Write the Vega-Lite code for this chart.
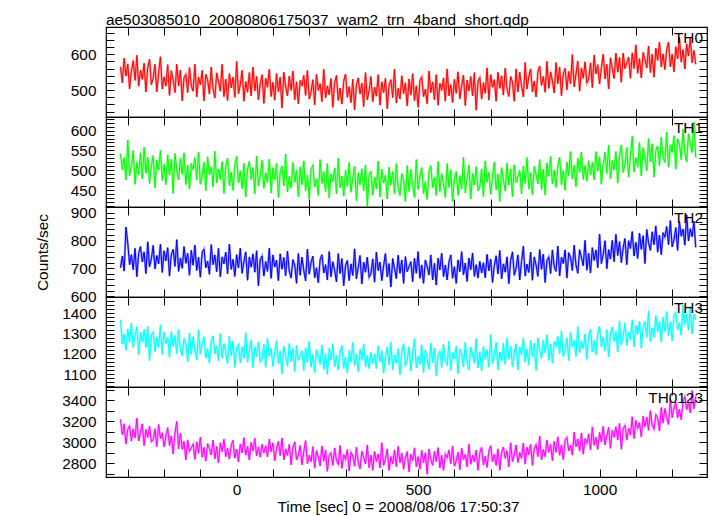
{
"$schema": "https://vega.github.io/schema/vega-lite/v6.json",
"autosize": {"type": "none"},
"padding": {"left": 106, "top": 27, "right": 10, "bottom": 489},
"title": {"text": "ae503085010_20080806175037_wam2_trn_4band_short.qdp", "anchor": "start", "frame": "group", "font": "Liberation Sans", "fontSize": 15.4, "fontWeight": "normal", "color": "#000000", "baseline": "alphabetic", "offset": -15},
"config": {
  "font": "Liberation Sans",
  "view": {"stroke": "#000000", "strokeWidth": 1.2},
  "axis": {"grid": false, "domain": false, "tickColor": "#000000", "tickWidth": 1, "tickSize": -8, "labelColor": "#000000", "labelFont": "Liberation Sans", "labelFontSize": 15.4, "labelPadding": 18, "labelOverlap": false, "labelFlush": false, "format": "d", "titleFont": "Liberation Sans", "titleFontSize": 15.4, "titleFontWeight": "normal", "titleColor": "#000000"}
},
"data": {"values": [
{"t":-320,"a":565,"b":542,"c":702,"d":1368,"e":3218},
{"t":-315,"a":520,"b":502,"c":744,"d":1249,"e":3072},
{"t":-310,"a":589,"b":532,"c":690,"d":1297,"e":3177},
{"t":-305,"a":539,"b":476,"c":848,"d":1218,"e":2983},
{"t":-300,"a":573,"b":576,"c":791,"d":1322,"e":3124},
{"t":-295,"a":503,"b":486,"c":713,"d":1257,"e":3157},
{"t":-290,"a":553,"b":511,"c":749,"d":1352,"e":3011},
{"t":-285,"a":582,"b":550,"c":695,"d":1231,"e":3128},
{"t":-280,"a":527,"b":465,"c":772,"d":1286,"e":3042},
{"t":-275,"a":597,"b":520,"c":670,"d":1333,"e":3231},
{"t":-270,"a":511,"b":489,"c":754,"d":1196,"e":3013},
{"t":-265,"a":556,"b":544,"c":778,"d":1307,"e":3094},
{"t":-260,"a":530,"b":479,"c":723,"d":1258,"e":3176},
{"t":-255,"a":575,"b":558,"c":759,"d":1321,"e":2969},
{"t":-250,"a":495,"b":493,"c":681,"d":1232,"e":3123},
{"t":-245,"a":563,"b":533,"c":795,"d":1335,"e":3047},
{"t":-240,"a":586,"b":467,"c":705,"d":1166,"e":3152},
{"t":-235,"a":515,"b":512,"c":734,"d":1293,"e":3004},
{"t":-230,"a":533,"b":537,"c":782,"d":1308,"e":3025},
{"t":-225,"a":572,"b":456,"c":698,"d":1211,"e":3129},
{"t":-220,"a":495,"b":526,"c":746,"d":1282,"e":2958},
{"t":-215,"a":549,"b":501,"c":716,"d":1233,"e":3170},
{"t":-210,"a":593,"b":550,"c":787,"d":1343,"e":3035},
{"t":-205,"a":503,"b":475,"c":685,"d":1198,"e":3091},
{"t":-200,"a":537,"b":515,"c":763,"d":1308,"e":2956},
{"t":-195,"a":511,"b":464,"c":727,"d":1251,"e":3060},
{"t":-190,"a":571,"b":539,"c":774,"d":1281,"e":3140},
{"t":-185,"a":485,"b":488,"c":672,"d":1184,"e":2969},
{"t":-180,"a":554,"b":528,"c":750,"d":1310,"e":3061},
{"t":-175,"a":529,"b":442,"c":768,"d":1237,"e":2889},
{"t":-170,"a":493,"b":542,"c":707,"d":1291,"e":3089},
{"t":-165,"a":572,"b":501,"c":803,"d":1202,"e":3200},
{"t":-160,"a":512,"b":476,"c":689,"d":1320,"e":2938},
{"t":-155,"a":556,"b":530,"c":737,"d":1223,"e":3086},
{"t":-150,"a":470,"b":490,"c":700,"d":1189,"e":2934},
{"t":-145,"a":535,"b":544,"c":778,"d":1276,"e":3010},
{"t":-140,"a":544,"b":464,"c":718,"d":1250,"e":2832},
{"t":-135,"a":493,"b":513,"c":754,"d":1161,"e":3023},
{"t":-130,"a":563,"b":453,"c":675,"d":1303,"e":2914},
{"t":-125,"a":512,"b":517,"c":765,"d":1198,"e":2949},
{"t":-120,"a":497,"b":502,"c":711,"d":1284,"e":2984},
{"t":-115,"a":572,"b":532,"c":783,"d":1218,"e":2838},
{"t":-110,"a":481,"b":476,"c":692,"d":1169,"e":3005},
{"t":-105,"a":536,"b":546,"c":740,"d":1319,"e":2895},
{"t":-100,"a":515,"b":465,"c":668,"d":1198,"e":3050},
{"t":-95,"a":555,"b":485,"c":757,"d":1253,"e":2858},
{"t":-90,"a":470,"b":520,"c":769,"d":1284,"e":2953},
{"t":-85,"a":544,"b":449,"c":702,"d":1179,"e":2821},
{"t":-80,"a":529,"b":534,"c":726,"d":1226,"e":2988},
{"t":-75,"a":489,"b":489,"c":678,"d":1154,"e":2940},
{"t":-70,"a":564,"b":509,"c":785,"d":1265,"e":2879},
{"t":-65,"a":503,"b":458,"c":713,"d":1288,"e":3022},
{"t":-60,"a":478,"b":548,"c":748,"d":1199,"e":2842},
{"t":-55,"a":548,"b":468,"c":688,"d":1238,"e":2961},
{"t":-50,"a":523,"b":503,"c":772,"d":1165,"e":2805},
{"t":-45,"a":497,"b":477,"c":669,"d":1300,"e":2996},
{"t":-40,"a":572,"b":522,"c":741,"d":1179,"e":2912},
{"t":-35,"a":482,"b":442,"c":716,"d":1250,"e":3031},
{"t":-30,"a":531,"b":511,"c":758,"d":1209,"e":2863},
{"t":-25,"a":471,"b":531,"c":680,"d":1152,"e":2946},
{"t":-20,"a":546,"b":461,"c":787,"d":1288,"e":2840},
{"t":-15,"a":506,"b":496,"c":696,"d":1191,"e":2971},
{"t":-10,"a":536,"b":450,"c":732,"d":1262,"e":3019},
{"t":-5,"a":480,"b":515,"c":671,"d":1133,"e":2850},
{"t":0,"a":580,"b":535,"c":749,"d":1228,"e":2934},
{"t":5,"a":490,"b":469,"c":701,"d":1251,"e":2815},
{"t":10,"a":515,"b":499,"c":772,"d":1155,"e":2984},
{"t":15,"a":555,"b":454,"c":682,"d":1234,"e":2900},
{"t":20,"a":469,"b":518,"c":724,"d":1177,"e":3045},
{"t":25,"a":524,"b":433,"c":759,"d":1304,"e":2878},
{"t":30,"a":494,"b":503,"c":657,"d":1159,"e":2963},
{"t":35,"a":549,"b":522,"c":741,"d":1214,"e":2832},
{"t":40,"a":484,"b":477,"c":704,"d":1269,"e":3000},
{"t":45,"a":564,"b":507,"c":752,"d":1132,"e":2917},
{"t":50,"a":498,"b":441,"c":686,"d":1235,"e":3038},
{"t":55,"a":538,"b":536,"c":763,"d":1187,"e":2871},
{"t":60,"a":473,"b":461,"c":637,"d":1258,"e":2956},
{"t":65,"a":518,"b":485,"c":732,"d":1161,"e":2860},
{"t":70,"a":543,"b":525,"c":744,"d":1176,"e":2981},
{"t":75,"a":463,"b":455,"c":672,"d":1247,"e":2898},
{"t":80,"a":533,"b":494,"c":725,"d":1134,"e":2968},
{"t":85,"a":508,"b":469,"c":689,"d":1277,"e":2861},
{"t":90,"a":558,"b":528,"c":772,"d":1188,"e":3030},
{"t":95,"a":482,"b":443,"c":664,"d":1227,"e":2911},
{"t":100,"a":522,"b":507,"c":748,"d":1138,"e":2995},
{"t":105,"a":472,"b":477,"c":705,"d":1210,"e":2824},
{"t":110,"a":546,"b":517,"c":729,"d":1265,"e":2941},
{"t":115,"a":496,"b":432,"c":656,"d":1152,"e":3010},
{"t":120,"a":536,"b":496,"c":752,"d":1215,"e":2875},
{"t":125,"a":450,"b":511,"c":697,"d":1102,"e":3040},
{"t":130,"a":550,"b":461,"c":739,"d":1238,"e":2833},
{"t":135,"a":510,"b":541,"c":673,"d":1189,"e":2938},
{"t":140,"a":484,"b":446,"c":762,"d":1140,"e":2875},
{"t":145,"a":539,"b":485,"c":690,"d":1251,"e":2980},
{"t":150,"a":499,"b":455,"c":665,"d":1163,"e":2785},
{"t":155,"a":553,"b":520,"c":731,"d":1226,"e":2949},
{"t":160,"a":473,"b":470,"c":712,"d":1113,"e":3005},
{"t":165,"a":523,"b":500,"c":646,"d":1241,"e":2833},
{"t":170,"a":462,"b":434,"c":753,"d":1168,"e":2877},
{"t":175,"a":527,"b":509,"c":675,"d":1192,"e":2969},
{"t":180,"a":511,"b":464,"c":740,"d":1215,"e":2785},
{"t":185,"a":541,"b":524,"c":692,"d":1119,"e":2913},
{"t":190,"a":485,"b":449,"c":655,"d":1230,"e":3017},
{"t":195,"a":555,"b":488,"c":769,"d":1158,"e":2797},
{"t":200,"a":475,"b":428,"c":679,"d":1262,"e":2877},
{"t":205,"a":495,"b":503,"c":721,"d":1134,"e":2816},
{"t":210,"a":529,"b":513,"c":744,"d":1197,"e":2959},
{"t":215,"a":459,"b":458,"c":666,"d":1109,"e":2754},
{"t":220,"a":544,"b":478,"c":702,"d":1221,"e":2921},
{"t":225,"a":499,"b":437,"c":648,"d":1188,"e":2860},
{"t":230,"a":518,"b":527,"c":731,"d":1148,"e":2775},
{"t":235,"a":468,"b":467,"c":749,"d":1244,"e":2966},
{"t":240,"a":558,"b":497,"c":683,"d":1124,"e":2821},
{"t":245,"a":478,"b":447,"c":713,"d":1203,"e":2928},
{"t":250,"a":512,"b":517,"c":658,"d":1099,"e":2723},
{"t":255,"a":487,"b":431,"c":760,"d":1227,"e":2878},
{"t":260,"a":532,"b":491,"c":670,"d":1170,"e":2901},
{"t":265,"a":452,"b":471,"c":724,"d":1250,"e":2780},
{"t":270,"a":521,"b":506,"c":693,"d":1138,"e":2947},
{"t":275,"a":541,"b":441,"c":651,"d":1193,"e":2826},
{"t":280,"a":471,"b":531,"c":753,"d":1121,"e":2789},
{"t":285,"a":506,"b":456,"c":681,"d":1209,"e":2969},
{"t":290,"a":461,"b":486,"c":735,"d":1241,"e":2752},
{"t":295,"a":525,"b":435,"c":638,"d":1129,"e":2884},
{"t":300,"a":545,"b":500,"c":710,"d":1185,"e":2835},
{"t":305,"a":480,"b":460,"c":728,"d":1105,"e":2931},
{"t":310,"a":510,"b":520,"c":656,"d":1217,"e":2726},
{"t":315,"a":465,"b":445,"c":716,"d":1161,"e":2906},
{"t":320,"a":530,"b":480,"c":674,"d":1256,"e":2869},
{"t":325,"a":445,"b":510,"c":770,"d":1144,"e":2773},
{"t":330,"a":514,"b":424,"c":662,"d":1200,"e":2953},
{"t":335,"a":534,"b":494,"c":704,"d":1112,"e":2808},
{"t":340,"a":489,"b":464,"c":746,"d":1224,"e":2748},
{"t":345,"a":519,"b":504,"c":644,"d":1168,"e":2916},
{"t":350,"a":454,"b":449,"c":722,"d":1248,"e":2855},
{"t":355,"a":549,"b":514,"c":686,"d":1136,"e":2795},
{"t":360,"a":473,"b":408,"c":740,"d":1192,"e":2975},
{"t":365,"a":498,"b":488,"c":668,"d":1128,"e":2758},
{"t":370,"a":538,"b":498,"c":680,"d":1208,"e":2878},
{"t":375,"a":468,"b":438,"c":734,"d":1152,"e":2734},
{"t":380,"a":508,"b":483,"c":650,"d":1200,"e":2913},
{"t":385,"a":483,"b":453,"c":758,"d":1128,"e":2817},
{"t":390,"a":543,"b":523,"c":692,"d":1240,"e":2889},
{"t":395,"a":458,"b":433,"c":722,"d":1160,"e":2757},
{"t":400,"a":523,"b":503,"c":656,"d":1216,"e":2997},
{"t":405,"a":493,"b":468,"c":710,"d":1105,"e":2781},
{"t":410,"a":533,"b":488,"c":753,"d":1185,"e":2841},
{"t":415,"a":448,"b":428,"c":669,"d":1233,"e":2937},
{"t":420,"a":514,"b":508,"c":717,"d":1145,"e":2733},
{"t":425,"a":529,"b":463,"c":633,"d":1257,"e":2865},
{"t":430,"a":479,"b":497,"c":735,"d":1121,"e":2793},
{"t":435,"a":559,"b":442,"c":699,"d":1194,"e":2925},
{"t":440,"a":464,"b":517,"c":663,"d":1154,"e":2769},
{"t":445,"a":505,"b":457,"c":747,"d":1226,"e":2961},
{"t":450,"a":475,"b":437,"c":682,"d":1098,"e":2805},
{"t":455,"a":540,"b":492,"c":730,"d":1210,"e":2900},
{"t":460,"a":490,"b":477,"c":646,"d":1250,"e":2744},
{"t":465,"a":520,"b":422,"c":742,"d":1139,"e":2852},
{"t":470,"a":456,"b":512,"c":688,"d":1171,"e":2912},
{"t":475,"a":531,"b":447,"c":706,"d":1235,"e":2720},
{"t":480,"a":486,"b":502,"c":724,"d":1115,"e":2888},
{"t":485,"a":546,"b":462,"c":652,"d":1203,"e":2828},
{"t":490,"a":471,"b":432,"c":736,"d":1275,"e":2948},
{"t":495,"a":512,"b":527,"c":682,"d":1131,"e":2768},
{"t":500,"a":452,"b":452,"c":760,"d":1188,"e":2864},
{"t":505,"a":527,"b":487,"c":664,"d":1148,"e":2744},
{"t":510,"a":537,"b":507,"c":712,"d":1244,"e":2924},
{"t":515,"a":482,"b":442,"c":646,"d":1108,"e":2804},
{"t":520,"a":502,"b":472,"c":730,"d":1220,"e":2900},
{"t":525,"a":462,"b":427,"c":706,"d":1180,"e":2696},
{"t":530,"a":553,"b":497,"c":676,"d":1124,"e":2937},
{"t":535,"a":493,"b":512,"c":748,"d":1253,"e":2841},
{"t":540,"a":523,"b":457,"c":658,"d":1157,"e":2781},
{"t":545,"a":473,"b":482,"c":718,"d":1229,"e":2913},
{"t":550,"a":543,"b":437,"c":640,"d":1093,"e":2817},
{"t":555,"a":458,"b":522,"c":736,"d":1197,"e":2949},
{"t":560,"a":519,"b":447,"c":694,"d":1213,"e":2757},
{"t":565,"a":499,"b":492,"c":754,"d":1133,"e":2877},
{"t":570,"a":534,"b":467,"c":670,"d":1246,"e":2734},
{"t":575,"a":469,"b":432,"c":712,"d":1166,"e":2890},
{"t":580,"a":559,"b":517,"c":658,"d":1142,"e":2854},
{"t":585,"a":484,"b":457,"c":724,"d":1262,"e":2927},
{"t":590,"a":515,"b":502,"c":748,"d":1119,"e":2796},
{"t":595,"a":465,"b":422,"c":664,"d":1207,"e":2964},
{"t":600,"a":530,"b":482,"c":706,"d":1175,"e":2773},
{"t":605,"a":491,"b":497,"c":646,"d":1239,"e":2822},
{"t":610,"a":551,"b":437,"c":730,"d":1103,"e":2906},
{"t":615,"a":476,"b":487,"c":688,"d":1224,"e":2739},
{"t":620,"a":512,"b":453,"c":760,"d":1200,"e":2944},
{"t":625,"a":542,"b":533,"c":677,"d":1136,"e":2836},
{"t":630,"a":457,"b":443,"c":719,"d":1257,"e":2885},
{"t":635,"a":528,"b":478,"c":653,"d":1161,"e":2766},
{"t":640,"a":498,"b":513,"c":737,"d":1121,"e":2982},
{"t":645,"a":538,"b":428,"c":695,"d":1234,"e":2791},
{"t":650,"a":484,"b":493,"c":755,"d":1194,"e":2876},
{"t":655,"a":549,"b":463,"c":671,"d":1154,"e":2816},
{"t":660,"a":444,"b":509,"c":713,"d":1275,"e":2925},
{"t":665,"a":525,"b":449,"c":665,"d":1131,"e":2734},
{"t":670,"a":535,"b":459,"c":725,"d":1211,"e":2902},
{"t":675,"a":475,"b":504,"c":683,"d":1116,"e":2951},
{"t":680,"a":521,"b":434,"c":720,"d":1236,"e":2783},
{"t":685,"a":491,"b":524,"c":666,"d":1173,"e":2868},
{"t":690,"a":562,"b":470,"c":750,"d":1221,"e":2761},
{"t":695,"a":472,"b":495,"c":691,"d":1134,"e":2919},
{"t":700,"a":543,"b":440,"c":733,"d":1295,"e":2968},
{"t":705,"a":508,"b":485,"c":649,"d":1151,"e":2814},
{"t":710,"a":529,"b":521,"c":709,"d":1192,"e":2887},
{"t":715,"a":469,"b":451,"c":745,"d":1257,"e":2780},
{"t":720,"a":550,"b":491,"c":680,"d":1122,"e":2938},
{"t":725,"a":505,"b":422,"c":764,"d":1210,"e":2735},
{"t":730,"a":540,"b":507,"c":662,"d":1163,"e":2905},
{"t":735,"a":486,"b":477,"c":716,"d":1252,"e":2954},
{"t":740,"a":561,"b":448,"c":686,"d":1148,"e":2847},
{"t":745,"a":502,"b":518,"c":741,"d":1277,"e":2921},
{"t":750,"a":482,"b":463,"c":645,"d":1174,"e":2766},
{"t":755,"a":538,"b":503,"c":729,"d":1238,"e":2996},
{"t":760,"a":523,"b":434,"c":759,"d":1135,"e":2817},
{"t":765,"a":469,"b":514,"c":675,"d":1208,"e":2878},
{"t":770,"a":559,"b":469,"c":700,"d":1249,"e":2975},
{"t":775,"a":495,"b":485,"c":748,"d":1121,"e":2808},
{"t":780,"a":550,"b":500,"c":658,"d":1234,"e":2904},
{"t":785,"a":511,"b":441,"c":725,"d":1195,"e":2847},
{"t":790,"a":481,"b":511,"c":779,"d":1277,"e":2994},
{"t":795,"a":577,"b":467,"c":672,"d":1158,"e":2793},
{"t":800,"a":503,"b":532,"c":715,"d":1223,"e":2952},
{"t":805,"a":538,"b":453,"c":685,"d":1145,"e":2883},
{"t":810,"a":559,"b":494,"c":758,"d":1266,"e":2982},
{"t":815,"a":495,"b":439,"c":657,"d":1187,"e":2781},
{"t":820,"a":525,"b":510,"c":741,"d":1253,"e":2940},
{"t":825,"a":481,"b":490,"c":712,"d":1118,"e":2979},
{"t":830,"a":551,"b":466,"c":671,"d":1279,"e":2863},
{"t":835,"a":567,"b":527,"c":767,"d":1217,"e":3058},
{"t":840,"a":513,"b":452,"c":696,"d":1178,"e":2833},
{"t":845,"a":538,"b":503,"c":751,"d":1268,"e":2932},
{"t":850,"a":494,"b":438,"c":649,"d":1205,"e":2863},
{"t":855,"a":580,"b":519,"c":728,"d":1294,"e":3022},
{"t":860,"a":505,"b":485,"c":741,"d":1168,"e":2905},
{"t":865,"a":551,"b":535,"c":681,"d":1249,"e":2980},
{"t":870,"a":526,"b":466,"c":766,"d":1154,"e":2827},
{"t":875,"a":492,"b":501,"c":706,"d":1260,"e":3010},
{"t":880,"a":577,"b":457,"c":689,"d":1237,"e":2905},
{"t":885,"a":518,"b":513,"c":780,"d":1286,"e":3053},
{"t":890,"a":564,"b":533,"c":673,"d":1200,"e":2876},
{"t":895,"a":484,"b":464,"c":740,"d":1313,"e":2976},
{"t":900,"a":545,"b":500,"c":717,"d":1187,"e":2836},
{"t":905,"a":561,"b":450,"c":766,"d":1220,"e":3019},
{"t":910,"a":501,"b":521,"c":665,"d":1277,"e":3047},
{"t":915,"a":552,"b":487,"c":756,"d":1167,"e":2919},
{"t":920,"a":518,"b":547,"c":739,"d":1304,"e":2971},
{"t":925,"a":599,"b":478,"c":692,"d":1234,"e":2878},
{"t":930,"a":509,"b":513,"c":783,"d":1267,"e":3098},
{"t":935,"a":545,"b":459,"c":711,"d":1188,"e":2958},
{"t":940,"a":581,"b":530,"c":682,"d":1334,"e":3033},
{"t":945,"a":497,"b":495,"c":767,"d":1207,"e":2917},
{"t":950,"a":562,"b":546,"c":738,"d":1265,"e":3089},
{"t":955,"a":533,"b":477,"c":709,"d":1226,"e":2888},
{"t":960,"a":579,"b":512,"c":800,"d":1299,"e":3036},
{"t":965,"a":520,"b":473,"c":693,"d":1173,"e":2992},
{"t":970,"a":530,"b":524,"c":754,"d":1286,"e":3080},
{"t":975,"a":576,"b":489,"c":683,"d":1320,"e":2927},
{"t":980,"a":507,"b":520,"c":774,"d":1209,"e":3147},
{"t":985,"a":598,"b":476,"c":728,"d":1267,"e":2972},
{"t":990,"a":545,"b":547,"c":766,"d":1196,"e":3049},
{"t":995,"a":571,"b":498,"c":702,"d":1302,"e":2933},
{"t":1000,"a":517,"b":534,"c":823,"d":1336,"e":3094},
{"t":1005,"a":563,"b":465,"c":717,"d":1234,"e":3003},
{"t":1010,"a":600,"b":515,"c":749,"d":1284,"e":3152},
{"t":1015,"a":531,"b":546,"c":799,"d":1213,"e":2976},
{"t":1020,"a":572,"b":492,"c":699,"d":1319,"e":3065},
{"t":1025,"a":503,"b":563,"c":767,"d":1185,"e":3142},
{"t":1030,"a":590,"b":479,"c":733,"d":1299,"e":2943},
{"t":1035,"a":561,"b":525,"c":800,"d":1332,"e":3115},
{"t":1040,"a":532,"b":501,"c":724,"d":1262,"e":3048},
{"t":1045,"a":603,"b":547,"c":822,"d":1312,"e":3149},
{"t":1050,"a":550,"b":468,"c":746,"d":1210,"e":3022},
{"t":1055,"a":591,"b":538,"c":796,"d":1363,"e":3182},
{"t":1060,"a":522,"b":564,"c":720,"d":1245,"e":2935},
{"t":1065,"a":603,"b":495,"c":775,"d":1287,"e":3132},
{"t":1070,"a":560,"b":516,"c":807,"d":1353,"e":3161},
{"t":1075,"a":576,"b":557,"c":713,"d":1242,"e":3021},
{"t":1080,"a":592,"b":483,"c":799,"d":1308,"e":3134},
{"t":1085,"a":533,"b":539,"c":771,"d":1270,"e":3069},
{"t":1090,"a":604,"b":585,"c":832,"d":1368,"e":3244},
{"t":1095,"a":560,"b":496,"c":744,"d":1234,"e":3035},
{"t":1100,"a":626,"b":532,"c":793,"d":1340,"e":3210},
{"t":1105,"a":547,"b":508,"c":735,"d":1295,"e":3133},
{"t":1110,"a":588,"b":570,"c":826,"d":1361,"e":3188},
{"t":1115,"a":534,"b":486,"c":768,"d":1227,"e":3051},
{"t":1120,"a":605,"b":557,"c":817,"d":1333,"e":3250},
{"t":1125,"a":586,"b":533,"c":717,"d":1359,"e":3149},
{"t":1130,"a":562,"b":499,"c":839,"d":1281,"e":3240},
{"t":1135,"a":623,"b":580,"c":792,"d":1411,"e":3115},
{"t":1140,"a":549,"b":521,"c":764,"d":1261,"e":3302},
{"t":1145,"a":600,"b":567,"c":831,"d":1327,"e":3165},
{"t":1150,"a":536,"b":483,"c":785,"d":1281,"e":3124},
{"t":1155,"a":617,"b":550,"c":852,"d":1388,"e":3263},
{"t":1160,"a":583,"b":561,"c":758,"d":1310,"e":3234},
{"t":1165,"a":634,"b":512,"c":819,"d":1360,"e":3109},
{"t":1170,"a":565,"b":583,"c":749,"d":1258,"e":3332},
{"t":1175,"a":601,"b":534,"c":828,"d":1380,"e":3183},
{"t":1180,"a":557,"b":520,"c":812,"d":1310,"e":3322},
{"t":1185,"a":613,"b":596,"c":850,"d":1408,"e":3234},
{"t":1190,"a":634,"b":508,"c":785,"d":1291,"e":3170},
{"t":1195,"a":565,"b":564,"c":871,"d":1357,"e":3407},
{"t":1200,"a":600,"b":545,"c":777,"d":1264,"e":3235},
{"t":1205,"a":551,"b":587,"c":802,"d":1386,"e":3327},
{"t":1210,"a":621,"b":503,"c":846,"d":1404,"e":3383},
{"t":1215,"a":587,"b":579,"c":764,"d":1319,"e":3235},
{"t":1220,"a":647,"b":566,"c":868,"d":1353,"e":3316},
{"t":1225,"a":578,"b":527,"c":815,"d":1292,"e":3216},
{"t":1230,"a":613,"b":603,"c":841,"d":1438,"e":3392},
{"t":1235,"a":559,"b":544,"c":783,"d":1344,"e":3436},
{"t":1240,"a":629,"b":521,"c":892,"d":1395,"e":3312},
{"t":1245,"a":595,"b":592,"c":798,"d":1317,"e":3381},
{"t":1250,"a":645,"b":568,"c":842,"d":1432,"e":3281},
{"t":1255,"a":576,"b":545,"c":813,"d":1298,"e":3493},
{"t":1260,"a":611,"b":621,"c":869,"d":1396,"e":3321},
{"t":1265,"a":572,"b":532,"c":775,"d":1367,"e":3438}
]},
"spacing": 0,
"bounds": "flush",
"vconcat": [
{
 "width": 601, "height": 90,
 "layer": [
  {"mark": {"type": "line", "color": "#ff9494", "strokeWidth": 2.2, "clip": true},
   "encoding": {
    "x": {"field": "t", "type": "quantitative", "scale": {"domain": [-360, 1296], "nice": false, "zero": false}, "axis": null},
    "y": {"field": "a", "type": "quantitative", "scale": {"domain": [425, 676], "nice": false, "zero": false}, "axis": null}
   }},
  {"mark": {"type": "line", "color": "#ff0000", "strokeWidth": 1, "clip": true},
   "encoding": {
    "x": {"field": "t", "type": "quantitative", "scale": {"domain": [-360, 1296], "nice": false, "zero": false},
          "axis": {"orient": "bottom", "values": [-300,-200,-100,0,100,200,300,400,500,600,700,800,900,1000,1100,1200], "labels": false, "title": null,
                   "encode": {"ticks": {"update": {"y2": {"signal": "datum.value % 500 === 0 ? -8 : -4"}}}}}},
    "y": {"field": "a", "type": "quantitative", "scale": {"domain": [425, 676], "nice": false, "zero": false},
          "axis": {"orient": "left", "values": [440,460,480,500,520,540,560,580,600,620,640,660], "labelExpr": "datum.value % 100 === 0 ? datum.label : ''", "title": null,
                   "encode": {"ticks": {"update": {"x2": {"signal": "datum.value % 100 === 0 ? 8 : 4"}}}}}}
   }},
  {"mark": {"type": "point", "opacity": 0},
   "encoding": {
    "x": {"field": "t", "type": "quantitative", "scale": {"domain": [-360, 1296], "nice": false, "zero": false},
          "axis": {"orient": "top", "values": [-300,-200,-100,0,100,200,300,400,500,600,700,800,900,1000,1100,1200], "labels": false, "title": null,
                   "encode": {"ticks": {"update": {"y2": {"signal": "datum.value % 500 === 0 ? 8 : 4"}}}}}},
    "y": {"field": "a", "type": "quantitative", "scale": {"domain": [425, 676], "nice": false, "zero": false},
          "axis": {"orient": "right", "values": [440,460,480,500,520,540,560,580,600,620,640,660], "labels": false, "title": null,
                   "encode": {"ticks": {"update": {"x2": {"signal": "datum.value % 100 === 0 ? -8 : -4"}}}}}}
   }},
  {"data": {"values": [{"label": "TH0"}]},
   "mark": {"type": "text", "align": "right", "baseline": "alphabetic", "dx": -4, "dy": 16, "font": "Liberation Sans", "fontSize": 15.4, "color": "#000000"},
   "encoding": {
    "x": {"datum": 1296, "type": "quantitative", "scale": {"domain": [-360, 1296], "nice": false, "zero": false}, "axis": null},
    "y": {"datum": 676, "type": "quantitative", "scale": {"domain": [425, 676], "nice": false, "zero": false}, "axis": null},
    "text": {"field": "label"}
   }}
 ],
 "resolve": {"axis": {"x": "independent", "y": "independent"}}
},
{
 "width": 601, "height": 90,
 "layer": [
  {"mark": {"type": "line", "color": "#94ff94", "strokeWidth": 2.2, "clip": true},
   "encoding": {
    "x": {"field": "t", "type": "quantitative", "scale": {"domain": [-360, 1296], "nice": false, "zero": false}, "axis": null},
    "y": {"field": "b", "type": "quantitative", "scale": {"domain": [408, 634], "nice": false, "zero": false}, "axis": null}
   }},
  {"mark": {"type": "line", "color": "#00ff00", "strokeWidth": 1, "clip": true},
   "encoding": {
    "x": {"field": "t", "type": "quantitative", "scale": {"domain": [-360, 1296], "nice": false, "zero": false},
          "axis": {"orient": "bottom", "values": [-300,-200,-100,0,100,200,300,400,500,600,700,800,900,1000,1100,1200], "labels": false, "title": null,
                   "encode": {"ticks": {"update": {"y2": {"signal": "datum.value % 500 === 0 ? -8 : -4"}}}}}},
    "y": {"field": "b", "type": "quantitative", "scale": {"domain": [408, 634], "nice": false, "zero": false},
          "axis": {"orient": "left", "values": [410,420,430,440,450,460,470,480,490,500,510,520,530,540,550,560,570,580,590,600,610,620,630], "labelExpr": "datum.value % 50 === 0 ? datum.label : ''", "title": null,
                   "encode": {"ticks": {"update": {"x2": {"signal": "datum.value % 50 === 0 ? 8 : 4"}}}}}}
   }},
  {"mark": {"type": "point", "opacity": 0},
   "encoding": {
    "x": {"field": "t", "type": "quantitative", "scale": {"domain": [-360, 1296], "nice": false, "zero": false},
          "axis": {"orient": "top", "values": [-300,-200,-100,0,100,200,300,400,500,600,700,800,900,1000,1100,1200], "labels": false, "title": null,
                   "encode": {"ticks": {"update": {"y2": {"signal": "datum.value % 500 === 0 ? 8 : 4"}}}}}},
    "y": {"field": "b", "type": "quantitative", "scale": {"domain": [408, 634], "nice": false, "zero": false},
          "axis": {"orient": "right", "values": [410,420,430,440,450,460,470,480,490,500,510,520,530,540,550,560,570,580,590,600,610,620,630], "labels": false, "title": null,
                   "encode": {"ticks": {"update": {"x2": {"signal": "datum.value % 50 === 0 ? -8 : -4"}}}}}}
   }},
  {"data": {"values": [{"label": "TH1"}]},
   "mark": {"type": "text", "align": "right", "baseline": "alphabetic", "dx": -4, "dy": 16, "font": "Liberation Sans", "fontSize": 15.4, "color": "#000000"},
   "encoding": {
    "x": {"datum": 1296, "type": "quantitative", "scale": {"domain": [-360, 1296], "nice": false, "zero": false}, "axis": null},
    "y": {"datum": 634, "type": "quantitative", "scale": {"domain": [408, 634], "nice": false, "zero": false}, "axis": null},
    "text": {"field": "label"}
   }}
 ],
 "resolve": {"axis": {"x": "independent", "y": "independent"}}
},
{
 "width": 601, "height": 90,
 "layer": [
  {"mark": {"type": "line", "color": "#9494ff", "strokeWidth": 2.2, "clip": true},
   "encoding": {
    "x": {"field": "t", "type": "quantitative", "scale": {"domain": [-360, 1296], "nice": false, "zero": false}, "axis": null},
    "y": {"field": "c", "type": "quantitative", "scale": {"domain": [597, 920], "nice": false, "zero": false}, "axis": null}
   }},
  {"mark": {"type": "line", "color": "#0000ff", "strokeWidth": 1, "clip": true},
   "encoding": {
    "x": {"field": "t", "type": "quantitative", "scale": {"domain": [-360, 1296], "nice": false, "zero": false},
          "axis": {"orient": "bottom", "values": [-300,-200,-100,0,100,200,300,400,500,600,700,800,900,1000,1100,1200], "labels": false, "title": null,
                   "encode": {"ticks": {"update": {"y2": {"signal": "datum.value % 500 === 0 ? -8 : -4"}}}}}},
    "y": {"field": "c", "type": "quantitative", "scale": {"domain": [597, 920], "nice": false, "zero": false},
          "axis": {"orient": "left", "values": [600,620,640,660,680,700,720,740,760,780,800,820,840,860,880,900], "labelExpr": "datum.value % 100 === 0 ? datum.label : ''", "title": "Counts/sec", "titleX": -56,
                   "encode": {"ticks": {"update": {"x2": {"signal": "datum.value % 100 === 0 ? 8 : 4"}}}}}}
   }},
  {"mark": {"type": "point", "opacity": 0},
   "encoding": {
    "x": {"field": "t", "type": "quantitative", "scale": {"domain": [-360, 1296], "nice": false, "zero": false},
          "axis": {"orient": "top", "values": [-300,-200,-100,0,100,200,300,400,500,600,700,800,900,1000,1100,1200], "labels": false, "title": null,
                   "encode": {"ticks": {"update": {"y2": {"signal": "datum.value % 500 === 0 ? 8 : 4"}}}}}},
    "y": {"field": "c", "type": "quantitative", "scale": {"domain": [597, 920], "nice": false, "zero": false},
          "axis": {"orient": "right", "values": [600,620,640,660,680,700,720,740,760,780,800,820,840,860,880,900], "labels": false, "title": null,
                   "encode": {"ticks": {"update": {"x2": {"signal": "datum.value % 100 === 0 ? -8 : -4"}}}}}}
   }},
  {"data": {"values": [{"label": "TH2"}]},
   "mark": {"type": "text", "align": "right", "baseline": "alphabetic", "dx": -4, "dy": 16, "font": "Liberation Sans", "fontSize": 15.4, "color": "#000000"},
   "encoding": {
    "x": {"datum": 1296, "type": "quantitative", "scale": {"domain": [-360, 1296], "nice": false, "zero": false}, "axis": null},
    "y": {"datum": 920, "type": "quantitative", "scale": {"domain": [597, 920], "nice": false, "zero": false}, "axis": null},
    "text": {"field": "label"}
   }}
 ],
 "resolve": {"axis": {"x": "independent", "y": "independent"}}
},
{
 "width": 601, "height": 90,
 "layer": [
  {"mark": {"type": "line", "color": "#94ffff", "strokeWidth": 2.2, "clip": true},
   "encoding": {
    "x": {"field": "t", "type": "quantitative", "scale": {"domain": [-360, 1296], "nice": false, "zero": false}, "axis": null},
    "y": {"field": "d", "type": "quantitative", "scale": {"domain": [1037, 1480], "nice": false, "zero": false}, "axis": null}
   }},
  {"mark": {"type": "line", "color": "#00ffff", "strokeWidth": 1, "clip": true},
   "encoding": {
    "x": {"field": "t", "type": "quantitative", "scale": {"domain": [-360, 1296], "nice": false, "zero": false},
          "axis": {"orient": "bottom", "values": [-300,-200,-100,0,100,200,300,400,500,600,700,800,900,1000,1100,1200], "labels": false, "title": null,
                   "encode": {"ticks": {"update": {"y2": {"signal": "datum.value % 500 === 0 ? -8 : -4"}}}}}},
    "y": {"field": "d", "type": "quantitative", "scale": {"domain": [1037, 1480], "nice": false, "zero": false},
          "axis": {"orient": "left", "values": [1040,1060,1080,1100,1120,1140,1160,1180,1200,1220,1240,1260,1280,1300,1320,1340,1360,1380,1400,1420,1440,1460], "labelExpr": "datum.value % 100 === 0 ? datum.label : ''", "title": null,
                   "encode": {"ticks": {"update": {"x2": {"signal": "datum.value % 100 === 0 ? 8 : 4"}}}}}}
   }},
  {"mark": {"type": "point", "opacity": 0},
   "encoding": {
    "x": {"field": "t", "type": "quantitative", "scale": {"domain": [-360, 1296], "nice": false, "zero": false},
          "axis": {"orient": "top", "values": [-300,-200,-100,0,100,200,300,400,500,600,700,800,900,1000,1100,1200], "labels": false, "title": null,
                   "encode": {"ticks": {"update": {"y2": {"signal": "datum.value % 500 === 0 ? 8 : 4"}}}}}},
    "y": {"field": "d", "type": "quantitative", "scale": {"domain": [1037, 1480], "nice": false, "zero": false},
          "axis": {"orient": "right", "values": [1040,1060,1080,1100,1120,1140,1160,1180,1200,1220,1240,1260,1280,1300,1320,1340,1360,1380,1400,1420,1440,1460], "labels": false, "title": null,
                   "encode": {"ticks": {"update": {"x2": {"signal": "datum.value % 100 === 0 ? -8 : -4"}}}}}}
   }},
  {"data": {"values": [{"label": "TH3"}]},
   "mark": {"type": "text", "align": "right", "baseline": "alphabetic", "dx": -4, "dy": 16, "font": "Liberation Sans", "fontSize": 15.4, "color": "#000000"},
   "encoding": {
    "x": {"datum": 1296, "type": "quantitative", "scale": {"domain": [-360, 1296], "nice": false, "zero": false}, "axis": null},
    "y": {"datum": 1480, "type": "quantitative", "scale": {"domain": [1037, 1480], "nice": false, "zero": false}, "axis": null},
    "text": {"field": "label"}
   }}
 ],
 "resolve": {"axis": {"x": "independent", "y": "independent"}}
},
{
 "width": 601, "height": 90,
 "layer": [
  {"mark": {"type": "line", "color": "#ff94ff", "strokeWidth": 2.2, "clip": true},
   "encoding": {
    "x": {"field": "t", "type": "quantitative", "scale": {"domain": [-360, 1296], "nice": false, "zero": false}, "axis": null},
    "y": {"field": "e", "type": "quantitative", "scale": {"domain": [2670, 3527], "nice": false, "zero": false}, "axis": null}
   }},
  {"mark": {"type": "line", "color": "#ff00ff", "strokeWidth": 1, "clip": true},
   "encoding": {
    "x": {"field": "t", "type": "quantitative", "scale": {"domain": [-360, 1296], "nice": false, "zero": false},
          "axis": {"orient": "bottom", "values": [-300,-200,-100,0,100,200,300,400,500,600,700,800,900,1000,1100,1200], "labelExpr": "datum.value % 500 === 0 ? datum.label : ''", "labelPadding": 13, "title": "Time [sec] 0 = 2008/08/06 17:50:37", "titleX": 292, "titlePadding": 2,
                   "encode": {"ticks": {"update": {"y2": {"signal": "datum.value % 500 === 0 ? -8 : -4"}}}}}},
    "y": {"field": "e", "type": "quantitative", "scale": {"domain": [2670, 3527], "nice": false, "zero": false},
          "axis": {"orient": "left", "values": [2700,2800,2900,3000,3100,3200,3300,3400,3500], "labelExpr": "datum.value % 200 === 0 ? datum.label : ''", "title": null,
                   "encode": {"ticks": {"update": {"x2": {"signal": "datum.value % 200 === 0 ? 8 : 4"}}}}}}
   }},
  {"mark": {"type": "point", "opacity": 0},
   "encoding": {
    "x": {"field": "t", "type": "quantitative", "scale": {"domain": [-360, 1296], "nice": false, "zero": false},
          "axis": {"orient": "top", "values": [-300,-200,-100,0,100,200,300,400,500,600,700,800,900,1000,1100,1200], "labels": false, "title": null,
                   "encode": {"ticks": {"update": {"y2": {"signal": "datum.value % 500 === 0 ? 8 : 4"}}}}}},
    "y": {"field": "e", "type": "quantitative", "scale": {"domain": [2670, 3527], "nice": false, "zero": false},
          "axis": {"orient": "right", "values": [2700,2800,2900,3000,3100,3200,3300,3400,3500], "labels": false, "title": null,
                   "encode": {"ticks": {"update": {"x2": {"signal": "datum.value % 200 === 0 ? -8 : -4"}}}}}}
   }},
  {"data": {"values": [{"label": "TH0123"}]},
   "mark": {"type": "text", "align": "right", "baseline": "alphabetic", "dx": -4, "dy": 16, "font": "Liberation Sans", "fontSize": 15.4, "color": "#000000"},
   "encoding": {
    "x": {"datum": 1296, "type": "quantitative", "scale": {"domain": [-360, 1296], "nice": false, "zero": false}, "axis": null},
    "y": {"datum": 3527, "type": "quantitative", "scale": {"domain": [2670, 3527], "nice": false, "zero": false}, "axis": null},
    "text": {"field": "label"}
   }}
 ],
 "resolve": {"axis": {"x": "independent", "y": "independent"}}
}
]
}
